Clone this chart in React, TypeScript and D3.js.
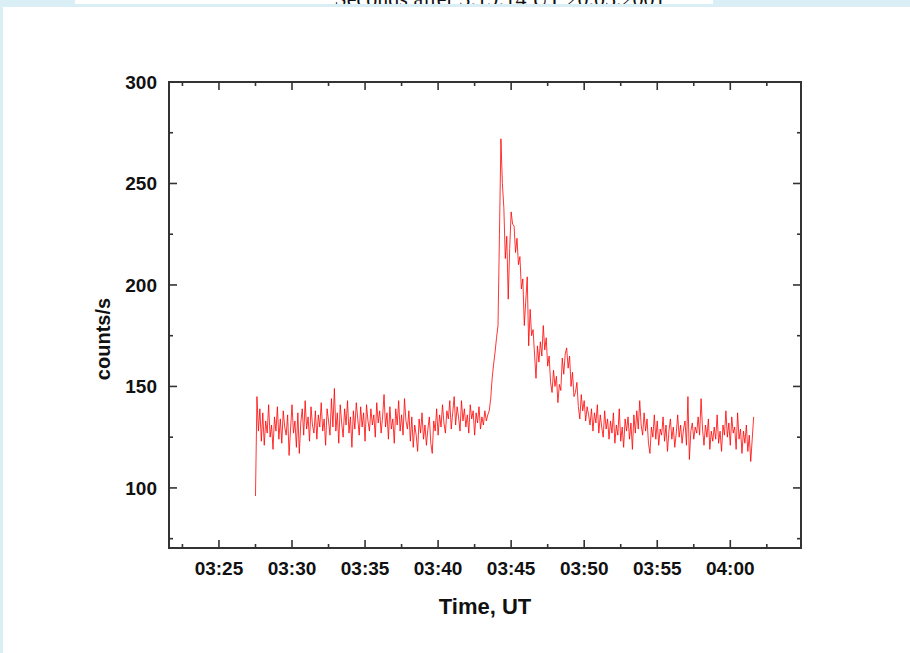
import React from "react";
import * as d3 from "d3";

// Count rate sampled every 0.1 min starting at 03:27:30 UT
const startMinute = 27.5; // minutes after 03:00 UT
const stepMinute = 0.1;

const baseline = [
  96, 145, 128, 139, 123, 137, 121, 133, 127, 141,
  125, 131, 119, 135, 128, 140, 124, 134, 122, 138,
  130, 126, 136, 116, 129, 141, 127, 133, 120, 137,
  117, 132, 139, 126, 143, 129, 135, 123, 140, 131,
  127, 138, 124, 136, 130, 142, 128, 134, 121, 139,
  133, 126, 144, 130, 149, 128, 137, 122, 141, 132,
  125, 139, 131, 143, 127, 135, 120, 138, 129, 142,
  134, 126, 140, 130, 137, 123, 141, 133, 128, 139,
  131, 136, 125, 142, 132, 138, 127, 135, 146, 130,
  137, 124, 140, 129, 134, 122, 139, 131, 143, 128,
  136, 126, 144, 133, 129, 138, 123, 135, 120, 131,
  126, 118, 134, 127, 137, 124, 131, 121, 129, 135,
  122, 117, 133, 128, 139, 126, 136, 130, 141, 132,
  127, 138, 134, 143, 129, 137, 145, 131, 140, 135,
  128, 143, 133, 139, 130, 136, 127, 141, 134, 138,
  126, 137, 132, 140, 129, 135, 131, 138, 133, 136,
];

const flareRise = [138, 144, 154, 161, 167, 174, 180, 225, 272];

const flareDecay = [
  250, 238, 213, 224, 193, 218, 236, 230, 229, 216,
  223, 210, 214, 198, 203, 180, 192, 204, 170, 188,
  175, 178, 166, 154, 170, 162, 172, 165, 180, 168,
  174, 160, 165, 152, 147, 158, 150, 155, 142, 151,
  148, 164, 156, 166, 169, 159, 165, 150, 157, 145,
  147, 152, 140, 134, 146, 138, 143, 133, 140, 136,
  131, 139, 128, 137, 132, 141, 127, 136, 130, 125,
  138, 129, 134, 124, 133,
];

const tail = [
  127, 137, 122, 131, 126, 139, 123, 130, 120, 134,
  128, 135, 124, 132, 119, 136, 127, 138, 129, 143,
  131, 126, 137, 128, 134, 122, 117, 130, 125, 136,
  124, 133, 121, 129, 126, 135, 123, 131, 118, 128,
  134, 124, 130, 120, 127, 136, 125, 131, 122, 129,
  133, 121, 145, 114, 128, 132, 124, 130, 127, 135,
  126, 144, 129, 121, 131, 125, 134, 119, 128, 123,
  130, 124, 136, 122, 128, 118, 131, 126, 138, 125,
  132, 121, 135, 127, 130, 119, 137, 124, 129, 117,
  128, 122, 131, 118, 126, 113, 124, 135,
];

const counts = [...baseline, ...flareRise, ...flareDecay, ...tail];

const xMajorTicks = [25, 30, 35, 40, 45, 50, 55, 60];
const xMinorTicks = [22.5, 27.5, 32.5, 37.5, 42.5, 47.5, 52.5, 57.5, 62.5];
const yMajorTicks = [100, 150, 200, 250, 300];
const yMinorTicks = [75, 125, 175, 225, 275];

const W = 910;
const H = 653;
const plot = { left: 169, right: 801, top: 82, bottom: 548 };

const fmtTime = (m: number) => {
  const h = 3 + Math.floor(m / 60);
  const mm = Math.round(m % 60);
  return `${String(h).padStart(2, "0")}:${String(mm).padStart(2, "0")}`;
};

export default function App() {
  const x = d3.scaleLinear().domain([21.58, 64.84]).range([plot.left, plot.right]);
  const y = d3.scaleLinear().domain([70.4, 300]).range([plot.bottom, plot.top]);

  const line = d3
    .line<number>()
    .x((_, i) => x(startMinute + i * stepMinute))
    .y((d) => y(d));

  const axisColor = "#333";
  const font = "'Liberation Sans', Arial, Helvetica, sans-serif";
  const major = 8;
  const minor = 4;

  return (
    <div style={{ position: "absolute", left: 0, top: 0 }}>
      <svg width={W} height={H} style={{ display: "block" }}>
        <defs>
          <clipPath id="captionClip">
            <rect x={75} y={0} width={638} height={4} />
          </clipPath>
        </defs>
        <rect x={0} y={0} width={W} height={H} fill="#d9eff5" />
        <rect x={3} y={7} width={W - 3} height={H - 7} fill="#ffffff" />
        <rect x={75} y={0} width={638} height={4} fill="#ffffff" />
        <text
          x={500}
          y={6}
          textAnchor="middle"
          fontFamily="'Liberation Serif', 'Times New Roman', serif"
          fontSize={22}
          fill="#111"
          clipPath="url(#captionClip)"
        >
          Seconds after 3:19:14 UT 20.05.2001
        </text>

        {/* flare light curve */}
        <path d={line(counts) ?? ""} fill="none" stroke="#ff0000" strokeWidth={0.8} strokeLinejoin="round" />

        {/* frame */}
        <rect
          x={plot.left}
          y={plot.top}
          width={plot.right - plot.left}
          height={plot.bottom - plot.top}
          fill="none"
          stroke={axisColor}
          strokeWidth={2}
        />

        {/* x ticks, bottom and top */}
        {xMajorTicks.map((t) => (
          <g key={`xM${t}`} stroke={axisColor} strokeWidth={1.6}>
            <line x1={x(t)} x2={x(t)} y1={plot.bottom} y2={plot.bottom - major} />
            <line x1={x(t)} x2={x(t)} y1={plot.top} y2={plot.top + major} />
          </g>
        ))}
        {xMinorTicks.map((t) => (
          <g key={`xm${t}`} stroke={axisColor} strokeWidth={1.6}>
            <line x1={x(t)} x2={x(t)} y1={plot.bottom} y2={plot.bottom - minor} />
            <line x1={x(t)} x2={x(t)} y1={plot.top} y2={plot.top + minor} />
          </g>
        ))}
        {/* y ticks, left and right */}
        {yMajorTicks.map((t) => (
          <g key={`yM${t}`} stroke={axisColor} strokeWidth={1.6}>
            <line x1={plot.left} x2={plot.left + major} y1={y(t)} y2={y(t)} />
            <line x1={plot.right} x2={plot.right - major} y1={y(t)} y2={y(t)} />
          </g>
        ))}
        {yMinorTicks.map((t) => (
          <g key={`ym${t}`} stroke={axisColor} strokeWidth={1.6}>
            <line x1={plot.left} x2={plot.left + minor} y1={y(t)} y2={y(t)} />
            <line x1={plot.right} x2={plot.right - minor} y1={y(t)} y2={y(t)} />
          </g>
        ))}

        {/* tick labels */}
        {xMajorTicks.map((t) => (
          <text
            key={`xl${t}`}
            x={x(t)}
            y={575}
            textAnchor="middle"
            fontFamily={font}
            fontWeight="bold"
            fontSize={19}
            fill="#111"
          >
            {fmtTime(t)}
          </text>
        ))}
        {yMajorTicks.map((t) => (
          <text
            key={`yl${t}`}
            x={157}
            y={y(t) + 6.8}
            textAnchor="end"
            fontFamily={font}
            fontWeight="bold"
            fontSize={19}
            fill="#111"
          >
            {t}
          </text>
        ))}

        {/* axis titles */}
        <text
          x={(plot.left + plot.right) / 2}
          y={614}
          textAnchor="middle"
          fontFamily={font}
          fontWeight="bold"
          fontSize={22}
          fill="#111"
        >
          Time, UT
        </text>
        <text
          transform={`translate(110, 339) rotate(-90)`}
          textAnchor="middle"
          fontFamily={font}
          fontWeight="bold"
          fontSize={20}
          fill="#111"
        >
          counts/s
        </text>
      </svg>
    </div>
  );
}
